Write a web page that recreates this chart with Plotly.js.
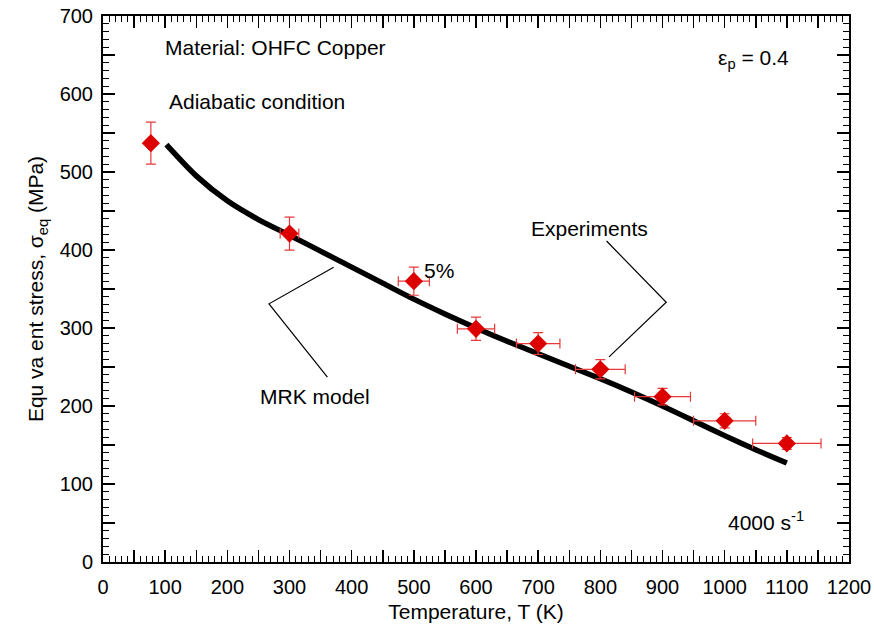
<!DOCTYPE html>
<html>
<head>
<meta charset="utf-8">
<script src="https://cdn.plot.ly/plotly-3.0.1.min.js"></script>
<style>html,body{margin:0;padding:0;background:#fff;}#chart{width:874px;height:634px;}</style>
</head>
<body>
<div id="chart"></div>
<script>
// Experiments (temperature K, equivalent stress MPa)
const expT = [77, 300, 500, 600, 700, 800, 900, 1000, 1100];
const expStress = [537, 421, 360, 299, 280, 247, 212, 181, 152];
const errPct = 5; // 5% error bars in both directions

// MRK model curve
const modelT = [102, 150, 200, 250, 300, 350, 400, 450, 500, 550, 600, 650, 700, 750, 800, 850, 900, 950, 1000, 1050, 1100];
const modelStress = [535, 495, 463, 439, 419, 398.5, 378, 357.5, 337, 318, 300, 283, 267, 251, 235, 218, 200, 181, 162, 144, 127];

// Axis ticks (labelled majors every 100, long unlabelled ticks at the 50s)
const xTickVals = [0,100,200,300,400,500,600,700,800,900,1000,1100,1200];
const xHalfTicks = [50,150,250,350,450,550,650,750,850,950,1050,1150];
const yTickVals = [0,100,200,300,400,500,600,700];
const yHalfTicks = [50,150,250,350,450,550,650];

const FONT = 'Liberation Sans, Arial, sans-serif';

const traces = [
  {
    x: modelT, y: modelStress, type: 'scatter', mode: 'lines',
    line: {color: '#000000', width: 5.5, shape: 'spline', smoothing: 0.8}, hoverinfo: 'skip'
  },
  {
    x: expT, y: expStress, type: 'scatter', mode: 'markers',
    marker: {symbol: 'diamond', size: 14, color: '#dd0000', line: {width: 0}},
    error_y: {type: 'percent', value: errPct, color: '#e8383a', thickness: 1.2, width: 5},
    error_x: {type: 'percent', value: errPct, color: '#e8383a', thickness: 1.2, width: 5}
  },
  // empty trace so the overlay tick axes (half-step ticks) are drawn
  {x: [], y: [], type: 'scatter', mode: 'markers', xaxis: 'x2', yaxis: 'y2', hoverinfo: 'skip'}
];

const axisCommon = {
  showgrid: false, zeroline: false, showline: true, linecolor: '#000', linewidth: 2,
  mirror: 'ticks', ticks: 'inside', ticklen: 12, tickwidth: 1.5, tickcolor: '#000',
  tickmode: 'array', tickfont: {family: FONT, size: 20, color: '#000'},
  minor: {tickmode: 'linear', tick0: 0, dtick: 10, ticks: 'inside', ticklen: 6, tickwidth: 1, tickcolor: '#000'}
};

const halfAxis = {
  showgrid: false, zeroline: false, showline: false, showticklabels: false,
  mirror: 'ticks', ticks: 'inside', ticklen: 12, tickwidth: 1.5, tickcolor: '#000',
  tickmode: 'array'
};

const layout = {
  width: 874, height: 634,
  margin: {l: 103, r: 25, t: 16, b: 72},
  paper_bgcolor: '#fff', plot_bgcolor: '#fff',
  showlegend: false,
  font: {family: FONT, color: '#000'},
  xaxis: Object.assign({}, axisCommon, {
    range: [0, 1200], tickvals: xTickVals,
    ticklabelstandoff: 6,
    title: {text: 'Temperature, T (K)', font: {family: FONT, size: 21}, standoff: 7}
  }),
  yaxis: Object.assign({}, axisCommon, {
    range: [0, 700], tickvals: yTickVals,
    ticklabelstandoff: 4,
    title: {text: 'Equ va ent stress, σ<sub>eq</sub> (MPa)', font: {family: FONT, size: 21}, standoff: 10}
  }),
  xaxis2: Object.assign({}, halfAxis, {overlaying: 'x', anchor: 'y2', side: 'bottom', range: [0, 1200], tickvals: xHalfTicks}),
  yaxis2: Object.assign({}, halfAxis, {overlaying: 'y', anchor: 'x2', side: 'left', range: [0, 700], tickvals: yHalfTicks}),
  annotations: [
    {x: 97, y: 659, xref: 'x', yref: 'y', xanchor: 'left', yanchor: 'middle', showarrow: false,
     text: 'Material: OHFC Copper', font: {family: FONT, size: 21}},
    {x: 103, y: 590, xref: 'x', yref: 'y', xanchor: 'left', yanchor: 'middle', showarrow: false,
     text: 'Adiabatic condition', font: {family: FONT, size: 21}},
    {x: 986, y: 645, xref: 'x', yref: 'y', xanchor: 'left', yanchor: 'middle', showarrow: false,
     text: 'ε<sub>p</sub> = 0.4', font: {family: FONT, size: 21}},
    {x: 686, y: 428, xref: 'x', yref: 'y', xanchor: 'left', yanchor: 'middle', showarrow: false,
     text: 'Experiments', font: {family: FONT, size: 21}},
    {x: 513, y: 374, xref: 'x', yref: 'y', xanchor: 'left', yanchor: 'middle', showarrow: false,
     text: '5%', font: {family: FONT, size: 21}},
    {x: 250, y: 212, xref: 'x', yref: 'y', xanchor: 'left', yanchor: 'middle', showarrow: false,
     text: 'MRK model', font: {family: FONT, size: 21}},
    {x: 1002, y: 53, xref: 'x', yref: 'y', xanchor: 'left', yanchor: 'middle', showarrow: false,
     text: '4000 s<sup>-1</sup>', font: {family: FONT, size: 21}}
  ],
  shapes: [
    {type: 'path', xref: 'x', yref: 'y', path: 'M 371 378 L 267 331 L 361 237', line: {color: '#000', width: 1.2}},
    {type: 'path', xref: 'x', yref: 'y', path: 'M 810 411.5 L 906 333 L 814 263', line: {color: '#000', width: 1.2}}
  ]
};

Plotly.newPlot('chart', traces, layout, {staticPlot: true, displayModeBar: false});
</script>
</body>
</html>
